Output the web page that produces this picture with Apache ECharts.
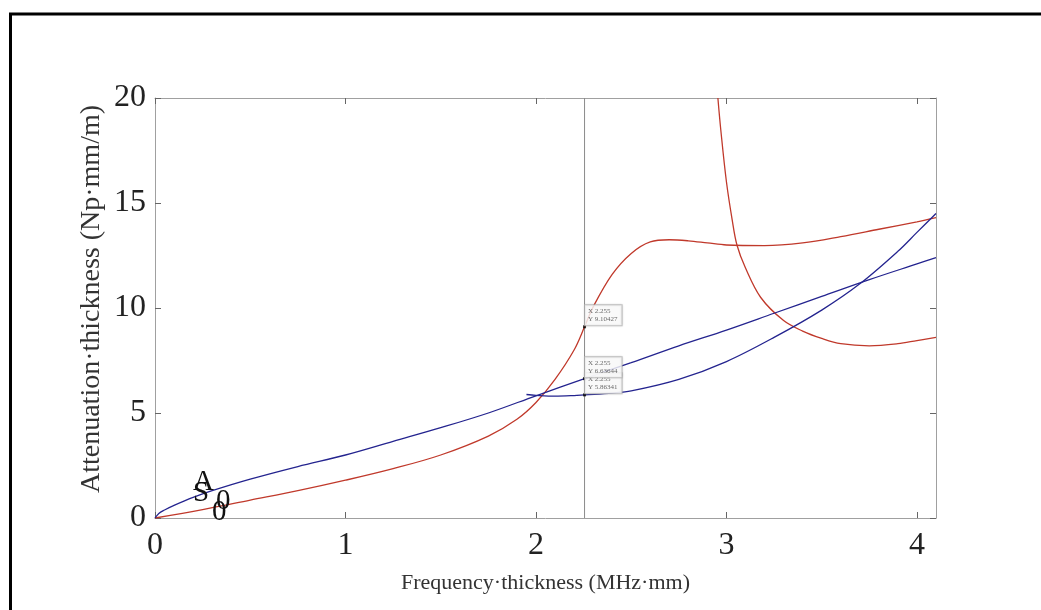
<!DOCTYPE html>
<html>
<head>
<meta charset="utf-8">
<script src="https://cdn.jsdelivr.net/npm/echarts@6/dist/echarts.min.js"></script>
<style>
  html, body { margin: 0; padding: 0; background: #fff; }
  #chart { width: 1041px; height: 610px; }
</style>
</head>
<body>
<div id="chart"></div>
<script>
// Attenuation vs frequency-thickness for the guided-wave modes
const a0X = [0, 0.02, 0.05, 0.1, 0.2, 0.3, 0.5, 0.75, 1.0, 1.25, 1.5, 1.75, 2.0, 2.255, 2.5, 2.75, 3.0, 3.25, 3.5, 3.75, 4.0, 4.1];
const a0Y = [0, 0.22, 0.38, 0.6, 0.98, 1.3, 1.85, 2.45, 3.0, 3.65, 4.3, 5.0, 5.82, 6.63644, 7.4, 8.2, 8.95, 9.75, 10.55, 11.35, 12.1, 12.4];

const s0X = [0, 0.25, 0.5, 0.75, 1.0, 1.25, 1.5, 1.75, 1.9, 2.0, 2.1, 2.2, 2.255, 2.3, 2.4, 2.5, 2.6, 2.7, 2.8, 2.9, 3.0, 3.2, 3.4, 3.6, 3.8, 4.0, 4.1];
const s0Y = [0, 0.4, 0.85, 1.3, 1.8, 2.35, 3.0, 3.9, 4.7, 5.5, 6.6, 8.0, 9.10427, 10.05, 11.6, 12.6, 13.15, 13.25, 13.2, 13.1, 13.0, 12.97, 13.1, 13.4, 13.75, 14.1, 14.3];

const a1X = [1.95, 2.0, 2.1, 2.2, 2.255, 2.4, 2.5, 2.75, 3.0, 3.25, 3.5, 3.7, 3.9, 4.0, 4.1];
const a1Y = [5.88, 5.84, 5.8, 5.83, 5.86341, 5.95, 6.05, 6.6, 7.45, 8.6, 9.9, 11.15, 12.7, 13.6, 14.5];

const s1X = [2.955, 2.97, 3.0, 3.03, 3.055, 3.1, 3.18, 3.3, 3.4, 3.5, 3.6, 3.75, 3.9, 4.0, 4.1];
const s1Y = [20, 18.5, 16, 14.2, 13.0, 11.9, 10.5, 9.4, 8.9, 8.55, 8.3, 8.2, 8.3, 8.45, 8.6];

const cursorX = 2.255;
const tipX = [2.255, 2.255, 2.255];
const tipY = [9.10427, 5.86341, 6.63644];

// mode names placed near the origin (letter + subscript)
const modeNames = ['A', 'S'];
const modeSub = ['0', '0'];
const modeNameX = [0.2, 0.2];
const modeNameY = [1.0, 0.48];

const xTicks = [0, 1, 2, 3, 4];
const yTicks = [0, 5, 10, 15, 20];

const pairs = (xs, ys) => xs.map((x, i) => [x, ys[i]]);

const RED = '#c0392b';
const BLUE = '#24248f';
const GRID = '#a0a0a0';
const SERIF = '"Liberation Serif", "DejaVu Serif", serif';

const chart = echarts.init(document.getElementById('chart'), null, { renderer: 'canvas' });

const axisCommon = {
  type: 'value',
  axisLine: { show: true, onZero: false, lineStyle: { color: GRID, width: 1 } },
  splitLine: { show: false }
};

const ticks = values => ({
  show: true, inside: true, length: 6, customValues: values,
  lineStyle: { color: '#666', width: 1 }
});

const lineSeries = (name, xs, ys, color) => ({
  name, type: 'line', data: pairs(xs, ys), smooth: 0.35,
  showSymbol: false, symbol: 'none', clip: true,
  lineStyle: { color, width: 1.3 }, z: 3
});

chart.setOption({
  animation: false,
  backgroundColor: '#fff',
  grid: { left: 155, right: 105, top: 98, bottom: 92 },
  xAxis: [
    Object.assign({}, axisCommon, {
      min: 0, max: 4.1, interval: 1, position: 'bottom',
      name: 'Frequency·thickness (MHz·mm)', nameLocation: 'middle', nameGap: 54,
      nameMoveOverlap: false,
      nameTextStyle: { fontFamily: SERIF, fontSize: 22, color: '#333' },
      axisTick: ticks(xTicks),
      axisLabel: {
        margin: 12, fontFamily: SERIF, fontSize: 32, color: '#222',
        customValues: xTicks, formatter: v => String(v)
      }
    }),
    Object.assign({}, axisCommon, {
      min: 0, max: 4.1, interval: 1, position: 'top',
      axisTick: ticks(xTicks), axisLabel: { show: false }
    })
  ],
  yAxis: [
    Object.assign({}, axisCommon, {
      min: 0, max: 20, interval: 5, position: 'left',
      name: 'Attenuation·thickness (Np·mm/m)', nameLocation: 'middle', nameGap: 49,
      nameMoveOverlap: false,
      nameTextStyle: { fontFamily: SERIF, fontSize: 28, color: '#333', padding: [0, 0, 0, 18] },
      axisTick: ticks(yTicks),
      axisLabel: {
        margin: 9, fontFamily: SERIF, fontSize: 32, color: '#222',
        customValues: yTicks, formatter: v => String(v)
      }
    }),
    Object.assign({}, axisCommon, {
      min: 0, max: 20, interval: 5, position: 'right',
      axisTick: ticks(yTicks), axisLabel: { show: false }
    })
  ],
  series: [
    {
      name: 'cursor', type: 'line', data: [[cursorX, 0], [cursorX, 20]],
      showSymbol: false, symbol: 'none', lineStyle: { color: '#8a8a8a', width: 1 }, z: 2
    },
    lineSeries('S0', s0X, s0Y, RED),
    lineSeries('S1', s1X, s1Y, RED),
    lineSeries('A0', a0X, a0Y, BLUE),
    lineSeries('A1', a1X, a1Y, BLUE),
    {
      name: 'tips', type: 'scatter', z: 6,
      data: pairs(tipX, tipY),
      symbol: 'rect', symbolSize: 3,
      itemStyle: { color: '#000' },
      label: {
        show: true, position: [2, -20],
        formatter: p => 'X ' + p.value[0].toFixed(3) + '\nY ' + p.value[1].toFixed(5),
        fontFamily: SERIF, fontSize: 7, lineHeight: 8, color: '#444',
        backgroundColor: '#fff', borderColor: '#bbb', borderWidth: 1,
        padding: [2, 4, 2, 3], shadowColor: 'rgba(0,0,0,0.15)', shadowBlur: 2
      }
    }
  ]
});

// mode names: letter with a dropped subscript, anchored at data coordinates
const modeGraphics = [];
modeNames.forEach((n, i) => {
  const p = chart.convertToPixel({ xAxisIndex: 0, yAxisIndex: 0 }, [modeNameX[i], modeNameY[i]]);
  modeGraphics.push({
    type: 'text', x: p[0], y: p[1], z: 50, silent: true,
    style: { text: n, font: '29px ' + SERIF, fill: '#111', align: 'left', verticalAlign: 'bottom' }
  });
  modeGraphics.push({
    type: 'text', x: p[0] + (n === 'A' ? 23 : 19), y: p[1] + 19, z: 50, silent: true,
    style: { text: modeSub[i], font: '29px ' + SERIF, fill: '#111', align: 'left', verticalAlign: 'bottom' }
  });
});

chart.setOption({
  graphic: [
    {
      type: 'rect', silent: true, z: 100,
      shape: { x: 10.5, y: 14, width: 1100, height: 700 },
      style: { fill: 'none', stroke: '#000', lineWidth: 3 }
    }
  ].concat(modeGraphics)
});
</script>
</body>
</html>
